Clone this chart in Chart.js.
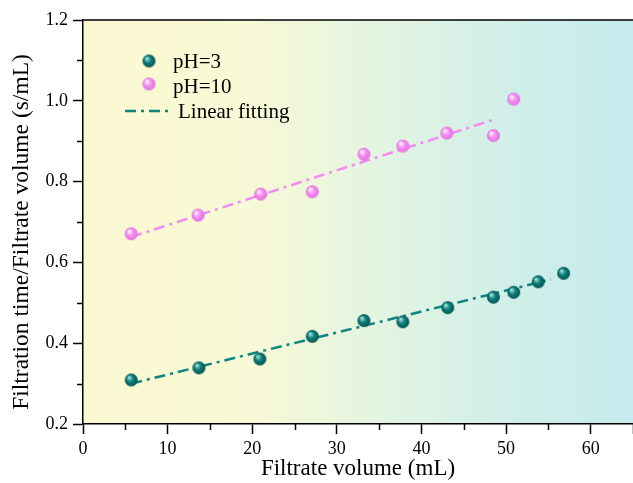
<!DOCTYPE html>
<html>
<head>
<meta charset="utf-8">
<script src="https://cdn.jsdelivr.net/npm/chart.js@4/dist/chart.umd.min.js"></script>
<style>
  html, body { margin: 0; padding: 0; background: #fff; }
  #wrap { width: 633px; height: 483px; }
</style>
</head>
<body>
<div id="wrap"><canvas id="filtration"></canvas></div>
<script>
// values
const volumePH3 = [5.7, 13.7, 20.9, 27.1, 33.2, 37.8, 43.1, 48.5, 50.9, 53.8, 56.8];
const ratioPH3 = [0.309, 0.339, 0.361, 0.417, 0.456, 0.453, 0.488, 0.514, 0.526, 0.552, 0.573];
const volumePH10 = [5.7, 13.6, 21.0, 27.1, 33.2, 37.8, 43.0, 48.5, 50.9];
const ratioPH10 = [0.671, 0.717, 0.769, 0.775, 0.868, 0.888, 0.920, 0.914, 1.004];
const fitPH3X = [5.7, 55.3];
const fitPH3Y = [0.300, 0.558];
const fitPH10X = [5.7, 48.9];
const fitPH10Y = [0.663, 0.956];
const seriesLabels = ['pH=3', 'pH=10', 'Linear fitting'];
const xTitle = 'Filtrate volume (mL)';
const yTitle = 'Filtration time/Filtrate volume (s/mL)';

const serif = "'Liberation Serif', 'DejaVu Serif', serif";
const teal = '#0f857f';
const pink = '#f48af2';

function sphere(base, light, dark, r) {
    const c = document.createElement('canvas');
    c.width = c.height = r * 2 + 2;
    const g = c.getContext('2d');
    const cx = r + 1, cy = r + 1;
    const grad = g.createRadialGradient(cx - r * 0.35, cy - r * 0.4, r * 0.1, cx, cy, r);
    grad.addColorStop(0, light);
    grad.addColorStop(0.45, base);
    grad.addColorStop(1, dark);
    g.fillStyle = grad;
    g.beginPath();
    g.arc(cx, cy, r, 0, Math.PI * 2);
    g.fill();
    return c;
}
const ballTeal = sphere('#0e807c', '#9fe0da', '#04524f', 6.5);
const ballPink = sphere('#f590f3', '#fff0ff', '#e070de', 6.5);

function pts(xs, ys) {
    return xs.map((x, i) => ({ x: x, y: ys[i] }));
}

const dashDot = [11, 5, 3, 5];

const bgPlugin = {
    id: 'bg',
    beforeDraw(chart) {
        const { ctx, chartArea: a } = chart;
        const grad = ctx.createLinearGradient(a.left, 0, a.right, 0);
        grad.addColorStop(0, '#fbf9d2');
        grad.addColorStop(0.3, '#f8f9d6');
        grad.addColorStop(0.55, '#e2f4e2');
        grad.addColorStop(0.8, '#cfeee9');
        grad.addColorStop(1, '#c6ebee');
        ctx.save();
        ctx.fillStyle = grad;
        ctx.fillRect(a.left, a.top, a.right - a.left, a.bottom - a.top);
        ctx.restore();
    },
    afterDraw(chart) {
        const { ctx, chartArea: a } = chart;
        const xs = chart.scales.x, ys = chart.scales.y;
        ctx.save();
        ctx.strokeStyle = '#000';
        ctx.lineWidth = 1.5;
        // top frame line
        ctx.beginPath();
        ctx.moveTo(a.left, a.top);
        ctx.lineTo(a.right, a.top);
        ctx.stroke();
        // minor ticks
        ctx.beginPath();
        for (let v = 0.3; v < 1.2; v += 0.2) {
            const y = Math.round(ys.getPixelForValue(v)) + 0.5;
            ctx.moveTo(a.left, y);
            ctx.lineTo(a.left - 6, y);
        }
        for (let v = 5; v < 65; v += 10) {
            const x = Math.round(xs.getPixelForValue(v)) + 0.5;
            ctx.moveTo(x, a.bottom);
            ctx.lineTo(x, a.bottom + 6);
        }
        ctx.stroke();

        // axis titles
        ctx.fillStyle = '#000';
        ctx.textAlign = 'center';
        ctx.textBaseline = 'middle';
        ctx.font = '23px ' + serif;
        ctx.fillText(xTitle, (a.left + a.right) / 2, 469);
        ctx.save();
        ctx.translate(22, 232);
        ctx.rotate(-Math.PI / 2);
        ctx.font = '23.5px ' + serif;
        ctx.fillText(yTitle, 0, 0);
        ctx.restore();

        // legend
        ctx.textAlign = 'left';
        ctx.font = '21px ' + serif;
        ctx.drawImage(ballTeal, 149 - 7.5, 61 - 7.5);
        ctx.fillText(seriesLabels[0], 173, 62);
        ctx.drawImage(ballPink, 149 - 7.5, 84 - 7.5);
        ctx.fillText(seriesLabels[1], 173, 87);
        ctx.strokeStyle = teal;
        ctx.lineWidth = 2.5;
        ctx.setLineDash(dashDot);
        ctx.beginPath();
        ctx.moveTo(125, 111);
        ctx.lineTo(173, 111);
        ctx.stroke();
        ctx.setLineDash([]);
        ctx.fillText(seriesLabels[2], 178, 112);
        ctx.restore();
    }
};

const config = {
    type: 'scatter',
    data: {
        datasets: [
            {
                label: seriesLabels[0],
                data: pts(volumePH3, ratioPH3),
                pointStyle: ballTeal,
                order: 1
            },
            {
                label: seriesLabels[1],
                data: pts(volumePH10, ratioPH10),
                pointStyle: ballPink,
                order: 1
            },
            {
                label: seriesLabels[2],
                data: pts(fitPH3X, fitPH3Y),
                showLine: true,
                borderColor: teal,
                borderWidth: 2.5,
                borderDash: dashDot,
                pointRadius: 0,
                order: 2
            },
            {
                label: seriesLabels[2],
                data: pts(fitPH10X, fitPH10Y),
                showLine: true,
                borderColor: pink,
                borderWidth: 2.5,
                borderDash: dashDot,
                pointRadius: 0,
                order: 2
            }
        ]
    },
    options: {
        responsive: true,
        maintainAspectRatio: false,
        animation: false,
        layout: { autoPadding: false, padding: { top: 20, right: 0, left: 0, bottom: 0 } },
        scales: {
            x: {
                type: 'linear',
                min: 0,
                max: 65,
                afterFit: s => { s.height = 59; s.paddingLeft = 0; s.paddingRight = 0; },
                border: { color: '#000', width: 1.5 },
                grid: { drawOnChartArea: false, tickLength: 10, tickColor: '#000', tickWidth: 1.5 },
                ticks: {
                    stepSize: 10,
                    color: '#000',
                    padding: 4,
                    font: { family: serif, size: 18 },
                    callback: v => (v % 10 === 0 ? v : '')
                }
            },
            y: {
                min: 0.2,
                max: 1.2,
                afterFit: s => { s.width = 83; },
                border: { color: '#000', width: 1.5 },
                grid: { drawOnChartArea: false, tickLength: 10, tickColor: '#000', tickWidth: 1.5 },
                ticks: {
                    stepSize: 0.2,
                    color: '#000',
                    padding: 5,
                    font: { family: serif, size: 18 },
                    callback: v => v.toFixed(1)
                }
            }
        },
        plugins: {
            legend: { display: false },
            tooltip: { enabled: false }
        }
    },
    plugins: [bgPlugin]
};

const filtrationChart = new Chart(document.getElementById('filtration'), config);
</script>
</body>
</html>
